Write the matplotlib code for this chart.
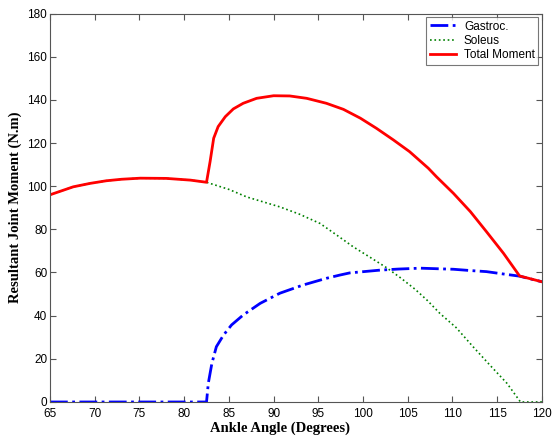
import matplotlib
matplotlib.use('Agg')
import matplotlib.pyplot as plt

# values
total_angle = [65, 67.6, 69.5, 71.3, 73, 75.1, 78, 80.7, 82.5, 82.9, 83.3, 83.8, 84.6, 85.5,
               86.6, 88.1, 90, 91.8, 93.7, 95.9, 97.8, 99.7, 101.5, 103.4, 105.2, 107.3,
               108.2, 110.1, 112, 113.8, 115.7, 117.5, 120]
total_moment = [96, 99.7, 101.3, 102.5, 103.2, 103.7, 103.6, 102.8, 101.8, 111.4, 122.2, 127.6,
                132.2, 135.8, 138.4, 140.7, 141.9, 141.8, 140.7, 138.4, 135.6, 131.5, 126.8,
                121.4, 116, 108.3, 104.4, 96.7, 88.2, 78.9, 68.9, 58.4, 55.7]

gastroc_angle = [65, 82.5, 82.7, 83.1, 83.6, 84.4, 85.3, 86.6, 88.5, 90.7, 93.3, 95.9, 97.4,
                 98.5, 101.9, 104, 106.4, 108.6, 110.1, 112, 113.8, 115.7, 117.5, 120]
gastroc_moment = [0, 0, 8.7, 17.9, 25.6, 31, 35.7, 40.3, 45.7, 50.4, 54.2, 57.3, 58.8, 59.8,
                  61.1, 61.6, 62, 61.7, 61.5, 60.9, 60.4, 59.3, 58.3, 55.7]

soleus_angle = [65, 67.6, 69.5, 71.3, 73, 75.1, 78, 80.7, 82.5, 85, 87, 90.7, 92.9, 95.2, 97,
                98.9, 100.8, 102.6, 104.2, 105.8, 107.2, 108.6, 110.4, 112.3, 114.2, 116.1,
                117.6, 120]
soleus_moment = [96, 99.7, 101.3, 102.5, 103.2, 103.7, 103.6, 102.8, 101.8, 98.5, 95, 90.4, 87,
                 82.7, 77.5, 71.9, 67, 62.3, 57.5, 52.3, 47, 41, 34.5, 25.6, 17, 8.6, 0, 0]

fig = plt.figure(figsize=(5.53, 4.40), dpi=100)
ax = fig.add_axes([0.0904, 0.0864, 0.8896, 0.8829])

ax.plot(gastroc_angle, gastroc_moment, color='#0000ff', linestyle='-.', linewidth=2,
        label='Gastroc.')
ax.plot(soleus_angle, soleus_moment, color='#008000', linestyle=':', linewidth=1.2,
        label='Soleus')
ax.plot(total_angle, total_moment, color='#ff0000', linestyle='-', linewidth=2,
        solid_joinstyle='round', label='Total Moment')

ax.set_xlim(65, 120)
ax.set_ylim(0, 180)
ax.set_xticks(range(65, 121, 5))
ax.set_yticks(range(0, 181, 20))
ax.tick_params(direction='in', top=True, right=True, length=4, width=0.8, color='#555555',
               labelsize=8.5, pad=2)
ax.tick_params(axis='x', pad=4)
for lab in ax.get_xticklabels() + ax.get_yticklabels():
    lab.set_fontfamily('Liberation Sans')
for sp in ax.spines.values():
    sp.set_color('#555555')
    sp.set_linewidth(0.8)

ax.set_xlabel('Ankle Angle (Degrees)', fontfamily='Liberation Serif', fontweight='bold',
              fontsize=10.5, labelpad=1)
ax.xaxis.set_label_coords(0.467, -0.05)
ax.set_ylabel('Resultant Joint Moment (N.m)', fontfamily='Liberation Serif',
              fontweight='bold', fontsize=10.5, labelpad=4)

leg = ax.legend(loc='upper right', prop={'family': 'Liberation Sans', 'size': 8.5},
                fancybox=False, edgecolor='#555555', handlelength=2.2, borderpad=0.3,
                labelspacing=0.2, handletextpad=0.7, borderaxespad=0.3)
leg.get_frame().set_linewidth(0.8)

fig.savefig('out.png', dpi=100)
